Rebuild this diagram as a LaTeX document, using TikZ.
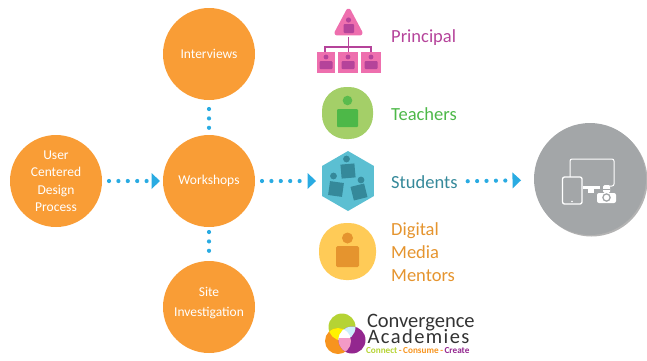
\documentclass[tikz,border=0pt]{standalone}
\usepackage{fontspec}
\setmainfont{Carlito}
\usetikzlibrary{arrows.meta,shapes.geometric,shadows}

\definecolor{orangefill}{HTML}{F99D36}
\definecolor{dotblue}{HTML}{29ABE2}
\definecolor{pinkfill}{HTML}{EE6FAE}
\definecolor{pinkdark}{HTML}{B5439A}
\definecolor{greenfill}{HTML}{A4CF68}
\definecolor{greendark}{HTML}{4DB848}
\definecolor{bluefill}{HTML}{5BBFD2}
\definecolor{bluedark}{HTML}{35899A}
\definecolor{yellowfill}{HTML}{FFCB57}
\definecolor{yellowdark}{HTML}{E5942E}
\definecolor{greyfill}{HTML}{A3A6A8}
\definecolor{logogreen}{HTML}{B5D334}
\definecolor{logoorange}{HTML}{F7941E}
\definecolor{logopurple}{HTML}{93278F}

\tikzset{
  stage/.style={circle,fill=orangefill,minimum size=92pt,inner sep=0pt,outer sep=0pt,text=white,align=center,font=\fontsize{13.5}{17.5}\selectfont},
  dots/.style={dotblue,line width=4.2pt,line cap=round,dash pattern=on 0pt off 9.4pt},
  flow/.style={dots,-{Triangle[length=8.5pt,width=16pt,fill=dotblue,line width=0pt,sep=0pt]}},
  role/.style={anchor=west,inner sep=0pt,align=left,font=\fontsize{18.5}{23}\selectfont},
  brand/.style={anchor=base west,inner sep=0pt,outer sep=0pt,text=black!80,font=\fontsize{20.5}{20.5}\selectfont,text height=13pt},
}

\begin{document}
\begin{tikzpicture}[x=1pt,y=-1pt]
\useasboundingbox (0,0) rectangle (647,360);

\node[stage] (design) at (56,181) {User\\Centered\\Design\\Process};
\node[stage] (workshops) at (209,181) {Workshops};
\node[stage] (interviews) at (209,54) {Interviews};
\node[stage] (site) at (209,307) {Site\\[3pt]Investigation\\[-7pt]\mbox{}};

% principal
\node[isosceles triangle,isosceles triangle apex angle=56,shape border rotate=90,fill=pinkfill,draw=pinkfill,line width=3pt,line join=round,rounded corners=2pt,minimum height=25pt,inner sep=0pt] (principal) at (348.5,26) {};
\fill[pinkdark] (348.5,20) circle(2.6);
\fill[pinkdark,rounded corners=1pt] (343.5,24) rectangle (354,33);
\draw[pinkdark,line width=1.3pt] (348.5,37) -- (348.5,52);
\draw[pinkdark,line width=1.3pt] (325,52) -- (325,47) -- (371,47) -- (371,52);
\foreach \x/\w in {326/9,348/10,371/10}{
  \fill[pinkfill] (\x-\w,52) rectangle (\x+\w,72.5);
  \fill[pinkdark] (\x,57) circle(2.4);
  \fill[pinkdark,rounded corners=1pt] (\x-6.5,61) rectangle (\x+6.5,69);
}
\node[role,text=pinkdark] (principaltext) at (391,38) {Principal};

% teachers
\node[fill=greenfill,rounded corners=24pt,minimum width=51pt,minimum height=52pt,inner sep=0pt] (teachers) at (347.5,113) {};
\fill[greendark!85!greenfill] (347.5,100.5) circle(4.8);
\fill[greendark,rounded corners=1pt] (337,109) rectangle (358,127);
\node[role,text=greendark] (teacherstext) at (391,114) {Teachers};

% students
\node[regular polygon,regular polygon sides=6,shape border rotate=30,fill=bluefill,minimum size=60pt,inner sep=0pt,outer sep=0pt] (students) at (348,181) {};
\foreach \x/\y/\a/\hx/\hy in {348/171/5/346.5/159,336/189/-8/333.5/176,359/192/14/361/180}{
  \fill[bluedark] (\hx,\hy) circle(3.4);
  \fill[bluedark,rotate around={\a:(\x,\y)}] (\x-7,\y-7) rectangle (\x+7,\y+7);
}
\node[role,text=bluedark] (studentstext) at (391,182) {Students};

% mentors
\node[fill=yellowfill,rounded corners=27pt,minimum width=57pt,minimum height=57pt,inner sep=0pt] (mentors) at (347.5,251.5) {};
\fill[yellowdark] (347.5,238) circle(5.5);
\fill[yellowdark,rounded corners=1.5pt] (336,246) rectangle (359,267);
\node[role,text=yellowdark] (mentorstext) at (391,252) {Digital\\Media\\Mentors};

% logo
\fill[logogreen] (342,327) circle(13.5);
\fill[logoorange] (338,341) circle(13);
\fill[logopurple] (352,340) circle(13.5);
\begin{scope}
\clip (342,327) circle(13.5);
\fill[yellow] (338,341) circle(13);
\fill[cyan!20] (352,340) circle(13.5);
\clip (338,341) circle(13);
\fill[white] (352,340) circle(13.5);
\end{scope}
\begin{scope}
\clip (338,341) circle(13);
\clip (352,340) circle(13.5);
\fill[pinkfill!70] (330,338) rectangle (365,355);
\end{scope}
\node[brand,text depth=1.5pt] (convergence) at (367,327) {Convergence};
\node[brand,text depth=0pt,text width=102pt] (academies) at (367.5,343) {A\hfill c\hfill a\hfill d\hfill e\hfill m\hfill i\hfill e\hfill s};
\node[brand,text height=6pt,text depth=1.5pt,font=\bfseries\fontsize{9.2}{9.2}\selectfont] (tagline) at (366,353) {\textcolor{logogreen}{Connect}\textcolor{logoorange}{\,-\,Consume\,-}\textcolor{logopurple}{\,Create}};

% devices
\node[circle,fill=greyfill,minimum size=112pt,inner sep=0pt,outer sep=0pt,drop shadow={shadow xshift=1.5pt,shadow yshift=-1.5pt,opacity=.6}] (devices) at (590,179) {};
\draw[white,line width=1pt,rounded corners=2pt] (570,186) -- (570,159) -- (614,159) -- (614,186) -- (608,186);
\fill[white] (583,186) rectangle (600,189);
\fill[white] (588,189) rectangle (594,193);
\draw[white,line width=1.3pt,fill=greyfill,rounded corners=2pt] (562.5,177) rectangle (582,204);
\fill[white] (572,201.5) circle(.8);
\fill[white,rounded corners=2pt] (597,193) rectangle (616,203);
\fill[white,rounded corners=1.5pt] (603,185) rectangle (610,193);
\draw[greyfill,line width=.8pt] (603,189) -- (610,189);
\draw[greyfill,fill=white,line width=1.3pt] (606.5,197.5) circle(3.6);

% connectors
\draw[flow,shorten <=7pt,shorten >=3pt] (design) -- (workshops);
\draw[flow,shorten <=7pt,shorten >=6pt] (workshops) -- (students);
\draw[flow,shorten <=10pt,shorten >=13pt] (studentstext) -- (devices);
\draw[dots,shorten <=9pt,shorten >=6pt] (interviews) -- (workshops);
\draw[dots,shorten <=5pt,shorten >=8pt] (workshops) -- (site);
\end{tikzpicture}
\end{document}
